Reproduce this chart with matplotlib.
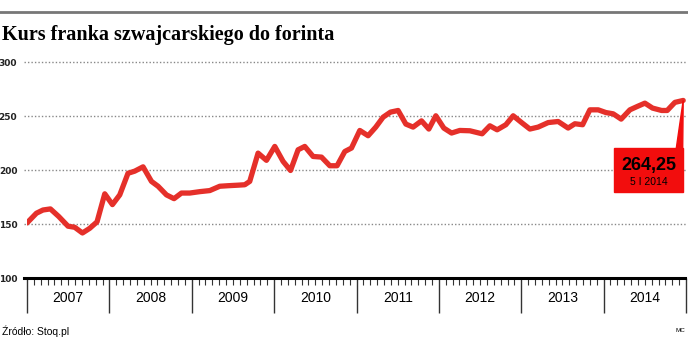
import matplotlib.pyplot as plt
import matplotlib.transforms as mtransforms
import numpy as np

# CHF/HUF rate (x in fractional years)
t = [2007.00, 2007.114, 2007.194, 2007.284, 2007.385, 2007.498, 2007.579, 2007.673,
     2007.761, 2007.850, 2007.944, 2008.037, 2008.126, 2008.226, 2008.308, 2008.409,
     2008.511, 2008.591, 2008.693, 2008.785, 2008.875, 2008.976, 2009.097, 2009.219,
     2009.340, 2009.441, 2009.562, 2009.644, 2009.704, 2009.805, 2009.907, 2010.008,
     2010.109, 2010.199, 2010.291, 2010.372, 2010.473, 2010.575, 2010.676, 2010.764,
     2010.858, 2010.939, 2011.040, 2011.141, 2011.234, 2011.323, 2011.413, 2011.505,
     2011.599, 2011.687, 2011.789, 2011.878, 2011.963, 2012.060, 2012.154, 2012.254,
     2012.376, 2012.525, 2012.619, 2012.707, 2012.813, 2012.902, 2013.004, 2013.105,
     2013.205, 2013.327, 2013.448, 2013.569, 2013.651, 2013.745, 2013.833, 2013.934,
     2014.027, 2014.116, 2014.213, 2014.319, 2014.408, 2014.501, 2014.594, 2014.704,
     2014.772, 2014.865, 2014.966]
rate = [151, 160, 163, 164, 157, 148, 147, 141.7,
        146, 152, 178, 168, 177, 197, 199, 203,
        189.5, 185, 177, 173.5, 178.7, 178.7, 180, 181,
        185, 185.5, 186, 186.4, 189.5, 215.7, 209, 221.9,
        208, 199.6, 218.8, 221.9, 212.6, 212, 204, 204,
        217.2, 220.4, 236.7, 231.8, 239.8, 249, 253.7, 255.2,
        242.6, 239.8, 245.6, 238, 250.3, 238.9, 234.3, 236.7,
        236.4, 233.6, 241, 237.3, 242, 250.3, 244, 238,
        239.8, 244, 245, 238.9, 242.9, 242, 255.8, 255.8,
        253.3, 252.1, 247.2, 255.8, 258.9, 262, 257.4, 255.2,
        255.2, 262.7, 264.5]
years = ['2007', '2008', '2009', '2010', '2011', '2012', '2013', '2014']
yticks = [100, 150, 200, 250, 300]
last_value = '264,25'
last_date = '5 I 2014'

RED = '#e5302a'
BOX = '#f20d0d'

fig = plt.figure(figsize=(6.88, 3.42), dpi=100)
ax = fig.add_axes([27 / 688, 1 - 278 / 342, 659 / 688, 223 / 342])
x0, x1 = 2007.0, 2014.99
ax.set_xlim(x0, x1)
ax.set_ylim(100, 306.6)

# top rule and title
fig.add_artist(plt.Line2D([0, 1], [1 - 12 / 342] * 2, color='#777777', lw=2))
fig.text(2 / 688, 1 - 35 / 342, 'Kurs franka szwajcarskiego do forinta',
         family='Liberation Serif', weight='bold', fontsize=14.5, va='center')

# dotted grid
for v in yticks[1:]:
    ax.axhline(v, xmin=-0.005, xmax=1, color='#888888', lw=1,
               linestyle=(0, (1, 1.5)), clip_on=False, zorder=1)

ax.plot(t, rate, color=RED, lw=3.8, solid_joinstyle='round',
        solid_capstyle='round', zorder=3)

# callout for the last value
xe, ye = t[-1], rate[-1]
inv = ax.transData.inverted()
H = 342
bl = inv.transform((615, H - 192))
tr = inv.transform((683.5, H - 148))
ax.add_patch(plt.Rectangle((bl[0], bl[1]), tr[0] - bl[0], tr[1] - bl[1],
                           color=BOX, zorder=4, clip_on=False))
wl = inv.transform((677, H - 149))
ax.add_patch(plt.Polygon([(xe, ye), (wl[0], wl[1]), (tr[0], wl[1])],
                         color=BOX, zorder=4, clip_on=False))
c1 = inv.transform((650, H - 165))
c2 = inv.transform((650, H - 182))
ax.text(c1[0], c1[1], last_value, family='Liberation Sans', weight='bold',
        fontsize=13, ha='center', va='center', zorder=5)
ax.text(c2[0], c2[1], last_date, family='Liberation Sans',
        fontsize=7.5, ha='center', va='center', zorder=5)

# axes styling
for s in ['top', 'right', 'left']:
    ax.spines[s].set_visible(False)
ax.spines['bottom'].set_linewidth(2.2)
ax.spines['bottom'].set_bounds(x0 - 0.04, x1)
ax.set_yticks(yticks)
ax.set_yticklabels([str(v) for v in yticks], family='DejaVu Sans',
                   fontsize=6.5, weight='bold', color='#222222')
ax.tick_params(axis='y', length=0, pad=7)

ax.set_xticks(np.arange(2007, 2016))
ax.set_xticklabels([])
ax.set_xticks(np.arange(2007, 2015, 1 / 12), minor=True)
ax.tick_params(axis='x', which='major', length=25, width=1, color='#333333')
ax.tick_params(axis='x', which='minor', length=5, width=0.8, color='#333333')

blend = mtransforms.blended_transform_factory(ax.transData, ax.transAxes)
for i, yl in enumerate(years):
    ax.text(2007.5 + i, -20 / 223, yl, transform=blend, family='Liberation Sans',
            fontsize=10, ha='center', va='center')

fig.text(2 / 688, 1 - 331 / 342, 'Źródło: Stoq.pl', family='Liberation Sans',
         fontsize=7.5, va='center')
fig.text(676 / 688, 1 - 331 / 342, 'MC', family='Liberation Sans',
         fontsize=4.5, va='center')

fig.savefig('out.png', dpi=100)
